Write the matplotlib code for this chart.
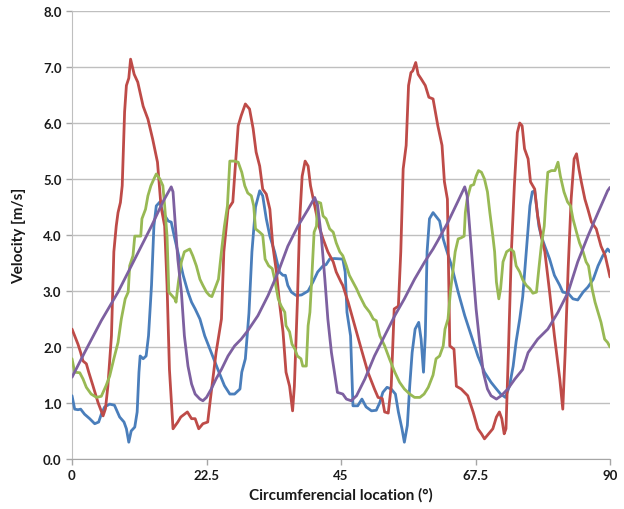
import matplotlib
matplotlib.use('Agg')
import matplotlib.pyplot as plt

plt.rcParams['font.family'] = ['Lato', 'DejaVu Sans']

# velocity traces, x in degrees, y in m/s
red_x = [0, 0.45, 1.0, 1.45, 1.84, 2.4, 2.8, 3.5, 4.35, 5.2,
         5.6, 6.0, 6.6, 7.0, 7.4, 7.7, 8.1, 8.4, 8.8, 9.1,
         9.5, 9.8, 10.4, 11.0, 11.9, 12.7, 13.5, 14.3, 14.9, 15.5,
         15.9, 16.3, 16.9, 17.7, 18.2, 19.3, 20.0, 20.6, 21.2, 21.9,
         22.7, 23.3, 24.1, 25.0, 25.4, 26.1, 26.9, 27.8, 28.3, 29.0,
         29.7, 30.3, 30.8, 31.4, 31.9, 32.5, 33.1, 33.6, 34.2, 34.7,
         35.3, 35.8, 36.4, 36.9, 37.2, 37.7, 38.1, 38.5, 39.0, 39.5,
         39.9, 40.6, 41.3, 42.0, 42.8, 43.7, 44.2, 45.0, 45.3, 46.2,
         47.3, 48.4, 49.5, 50.6, 51.2, 51.9, 52.3, 52.9, 53.4, 53.9,
         54.6, 55.0, 55.4, 55.9, 56.3, 56.7, 57.0, 57.5, 57.9, 58.4,
         59.1, 59.7, 60.4, 61.2, 61.9, 62.3, 62.8, 63.2, 63.9, 64.3,
         65.1, 66.2, 67.1, 67.9, 68.5, 69.0, 69.7, 70.4, 71.0, 71.5,
         71.9, 72.3, 72.6, 73.0, 73.5, 74.0, 74.5, 74.9, 75.3, 75.7,
         76.3, 76.7, 77.4, 77.9, 78.5, 79.1, 79.9, 80.7, 81.6, 82.1,
         82.5, 83.0, 83.5, 84.0, 84.4, 84.8, 85.2, 85.8, 86.3, 86.9,
         87.7, 88.5, 89.2, 90.0]
red_y = [2.32, 2.2, 2.05, 1.9, 1.75, 1.7, 1.55, 1.31, 1.01, 0.77,
         0.9, 1.3, 2.2, 3.7, 4.16, 4.4, 4.58, 4.88, 6.2, 6.67,
         6.8, 7.14, 6.87, 6.73, 6.3, 6.07, 5.71, 5.3, 4.5, 4.16,
         3.1, 1.6, 0.54, 0.66, 0.75, 0.84, 0.72, 0.72, 0.54, 0.63,
         0.66, 1.2, 1.9, 2.5, 3.7, 4.46, 4.59, 5.95, 6.13, 6.34,
         6.25, 5.9, 5.48, 5.23, 4.82, 4.73, 4.46, 3.8, 3.34, 2.8,
         2.27, 1.55, 1.3, 0.86, 1.3, 2.8, 4.29, 5.05, 5.32, 5.23,
         4.88, 4.52, 4.16, 3.93, 3.7, 3.52, 3.34, 3.16, 3.1, 2.8,
         2.38, 1.96, 1.55, 1.25, 1.1, 1.08, 0.84, 0.82, 1.3, 2.68,
         2.73, 3.7, 5.18, 5.6, 6.67, 6.9, 6.93, 7.08, 6.87, 6.79,
         6.67, 6.46, 6.43, 5.95, 5.6, 4.95, 4.64, 2.02, 1.96, 1.3,
         1.25, 1.13, 0.84, 0.54, 0.45, 0.36, 0.45, 0.54, 0.75, 0.84,
         0.72, 0.45, 0.54, 1.9, 3.7, 4.88, 5.83, 6.0, 5.95, 5.54,
         5.36, 4.95, 4.82, 4.34, 3.98, 3.7, 2.98, 2.2, 1.43, 0.89,
         1.9, 3.4, 4.64, 5.36, 5.45, 5.18, 4.95, 4.64, 4.46, 4.23,
         4.11, 3.8, 3.63, 3.25]

blue_x = [0, 0.45, 1.0, 1.45, 2.1, 2.96, 3.8, 4.46, 4.9, 5.46,
          6.3, 7.1, 7.97, 8.7, 9.1, 9.5, 9.9, 10.5, 10.9, 11.2,
          11.4, 11.9, 12.4, 12.8, 13.3, 13.7, 14.1, 14.7, 15.2, 16.1,
          16.6, 17.1, 17.7, 18.6, 19.4, 20.0, 20.6, 21.4, 22.2, 23.3,
          24.4, 25.5, 26.4, 27.2, 28.1, 28.4, 29.0, 29.6, 30.1, 30.7,
          31.4, 31.9, 32.5, 33.1, 33.9, 34.7, 35.3, 35.7, 36.1, 36.7,
          37.5, 38.4, 39.5, 40.3, 41.1, 42.0, 42.5, 43.1, 43.9, 45.3,
          45.7, 46.0, 46.6, 47.0, 47.8, 48.5, 49.2, 50.1, 50.9, 51.5,
          52.0, 52.7, 53.4, 54.1, 54.6, 55.2, 55.6, 56.1, 56.5, 56.9,
          57.4, 58.0, 58.4, 58.8, 59.1, 59.4, 59.8, 60.4, 61.5, 62.1,
          62.6, 63.5, 64.6, 65.7, 66.8, 67.9, 69.0, 70.1, 71.0, 71.7,
          72.5, 73.2, 73.8, 74.3, 74.9, 75.4, 76.0, 76.6, 77.0, 77.4,
          77.7, 78.1, 78.5, 79.1, 79.9, 80.7, 81.6, 82.1, 83.0, 83.8,
          84.6, 85.5, 86.3, 87.2, 88.0, 88.8, 89.6, 90.0]
blue_y = [1.13, 0.89, 0.88, 0.89, 0.8, 0.72, 0.63, 0.66, 0.8, 0.93,
          0.98, 0.96, 0.75, 0.66, 0.54, 0.3, 0.5, 0.57, 0.84, 1.55,
          1.84, 1.79, 1.84, 2.2, 3.1, 4.16, 4.52, 4.59, 4.4, 4.25,
          4.23, 3.98, 3.7, 3.28, 2.98, 2.8, 2.68, 2.5, 2.2, 1.9,
          1.6, 1.31, 1.16, 1.16, 1.25, 1.55, 1.79, 2.6, 3.7, 4.5,
          4.79, 4.7, 4.29, 3.98, 3.7, 3.34, 3.28, 3.28, 3.1, 2.98,
          2.92, 2.93, 3.0, 3.16, 3.34, 3.45, 3.47, 3.57, 3.58, 3.57,
          3.34, 2.62, 2.2, 0.95, 0.95, 1.07, 0.93, 0.86, 0.87, 1.01,
          1.19, 1.28, 1.25, 1.16, 0.84, 0.54, 0.3, 0.6, 1.31, 1.9,
          2.32, 2.44, 2.14, 1.55, 2.2, 3.7, 4.29, 4.4, 4.25, 3.93,
          3.75, 3.45, 2.98, 2.56, 2.2, 1.84, 1.55, 1.37, 1.25, 1.16,
          1.1, 1.31, 1.66, 2.1, 2.5, 2.9, 3.7, 4.52, 4.77, 4.79,
          4.52, 4.16, 3.98, 3.8, 3.57, 3.28, 3.1, 2.98, 2.96, 2.86,
          2.84, 2.98, 3.07, 3.21, 3.45, 3.63, 3.75, 3.7]

green_x = [0, 0.45, 1.3, 1.84, 2.4, 3.2, 4.1, 4.9, 5.7, 6.3,
           7.0, 7.7, 8.25, 8.9, 9.4, 9.65, 10.2, 10.5, 11.0, 11.5,
           11.7, 12.3, 12.7, 13.2, 13.7, 14.1, 14.7, 15.2, 15.5, 15.9,
           16.2, 16.7, 17.2, 17.4, 17.8, 18.3, 18.8, 19.7, 20.2, 20.8,
           21.4, 21.9, 22.5, 23.0, 23.4, 23.9, 24.5, 25.1, 25.5, 26.0,
           26.4, 27.2, 27.8, 28.4, 28.9, 29.4, 30.0, 30.4, 30.7, 31.4,
           31.9, 32.3, 32.9, 33.5, 33.9, 34.5, 35.0, 35.6, 35.8, 36.4,
           36.8, 37.3, 37.7, 38.3, 38.6, 39.2, 39.5, 39.8, 40.1, 40.5,
           40.9, 41.1, 41.6, 42.0, 42.5, 43.1, 43.7, 44.2, 44.8, 45.3,
           45.9, 46.4, 47.0, 47.6, 48.1, 49.0, 49.8, 50.4, 50.9, 51.5,
           52.3, 53.1, 54.0, 54.8, 55.6, 56.5, 57.3, 58.2, 58.9, 59.6,
           60.4, 60.9, 61.5, 62.1, 62.4, 62.9, 63.3, 63.7, 64.1, 64.6,
           65.1, 65.6, 65.8, 66.1, 66.7, 67.2, 67.6, 68.0, 68.5, 69.0,
           69.5, 69.9, 70.4, 70.7, 71.0, 71.4, 71.7, 72.1, 72.7, 73.4,
           73.9, 74.3, 74.9, 75.4, 76.0, 76.6, 77.1, 77.7, 78.1, 78.5,
           79.0, 79.3, 79.6, 80.2, 80.8, 81.3, 81.7, 82.3, 82.9, 83.4,
           83.8, 84.4, 84.9, 85.5, 86.0, 86.4, 87.0, 87.5, 88.0, 88.5,
           89.1, 89.6, 90.0]
green_y = [1.79, 1.55, 1.54, 1.43, 1.28, 1.16, 1.1, 1.12, 1.31, 1.48,
           1.79, 2.08, 2.5, 2.86, 2.98, 3.45, 3.63, 3.98, 3.98, 3.98,
           4.29, 4.46, 4.7, 4.88, 5.0, 5.09, 5.0, 4.88, 4.52, 3.98,
           2.98, 2.92, 2.86, 2.8, 3.16, 3.52, 3.7, 3.75, 3.63, 3.45,
           3.21, 3.1, 2.98, 2.92, 2.9, 3.04, 3.21, 3.8, 4.16, 4.52,
           5.32, 5.32, 5.3, 5.12, 4.88, 4.75, 4.7, 4.52, 4.11, 4.05,
           4.0, 3.57, 3.45, 3.4, 3.21, 2.86, 2.73, 2.62, 2.38, 2.27,
           2.05, 1.96, 1.84, 1.79, 1.66, 1.66, 2.38, 2.62, 3.21, 4.05,
           4.16, 4.59, 4.57, 4.34, 4.29, 4.11, 4.05, 3.86, 3.7, 3.63,
           3.45, 3.28, 3.16, 3.04, 2.92, 2.73, 2.62, 2.5, 2.47, 2.2,
           2.02, 1.79, 1.55, 1.37, 1.25, 1.16, 1.1, 1.1, 1.16, 1.28,
           1.5, 1.79, 1.84, 2.02, 2.32, 2.5, 2.98, 3.34, 3.7, 3.93,
           3.95, 3.98, 4.4, 4.64, 4.88, 4.9, 5.05, 5.15, 5.12, 5.0,
           4.77, 4.4, 3.98, 3.7, 3.16, 2.86, 3.04, 3.52, 3.7, 3.75,
           3.7, 3.45, 3.34, 3.2, 3.1, 3.04, 2.96, 2.98, 3.4, 3.8,
           4.16, 4.7, 5.12, 5.15, 5.15, 5.3, 5.05, 4.77, 4.59, 4.52,
           4.29, 4.05, 3.86, 3.7, 3.52, 3.45, 3.04, 2.8, 2.62, 2.44,
           2.14, 2.08, 2.0]

purple_x = [0, 2.1, 4.9, 7.7, 10.5, 13.3, 15.2, 16.6, 16.9, 17.3,
            17.7, 18.3, 18.8, 19.4, 20.0, 20.6, 21.4, 21.9, 22.5, 23.3,
            24.1, 25.0, 26.1, 27.2, 28.3, 29.4, 31.1, 32.8, 34.5, 36.1,
            37.8, 39.5, 40.6, 41.1, 41.7, 42.3, 42.8, 43.4, 43.9, 44.4,
            45.3, 45.9, 46.7, 47.6, 49.0, 50.6, 52.3, 54.0, 55.6, 57.3,
            59.0, 60.4, 61.2, 62.9, 64.6, 65.7, 66.1, 66.5, 67.1, 67.6,
            68.2, 68.8, 69.5, 70.1, 71.0, 71.8, 72.9, 74.1, 75.4, 76.3,
            77.9, 79.6, 81.3, 83.0, 84.6, 86.3, 88.0, 89.6, 90.0]
purple_y = [1.46, 1.9, 2.47, 2.98, 3.57, 4.16, 4.59, 4.86, 4.77, 4.16,
            3.57, 2.98, 2.2, 1.66, 1.34, 1.16, 1.07, 1.04, 1.1, 1.25,
            1.43, 1.6, 1.84, 2.02, 2.14, 2.29, 2.56, 2.92, 3.34, 3.8,
            4.16, 4.46, 4.67, 4.52, 3.98, 3.21, 2.5, 1.9, 1.55, 1.19,
            1.16, 1.07, 1.04, 1.13, 1.43, 1.84, 2.2, 2.56, 2.86, 3.21,
            3.52, 3.75, 3.9, 4.23, 4.61, 4.86, 4.7, 4.16, 3.34, 2.68,
            2.08, 1.55, 1.25, 1.13, 1.07, 1.13, 1.25, 1.43, 1.6, 1.9,
            2.14, 2.32, 2.62, 2.98, 3.52, 3.98, 4.4, 4.79, 4.85]

x_ticks = [0, 22.5, 45, 67.5, 90]
x_tick_labels = ['0', '22.5', '45', '67.5', '90']
y_ticks = [0, 1, 2, 3, 4, 5, 6, 7, 8]

fig = plt.figure(figsize=(6.24, 5.1), dpi=100)
ax = fig.add_axes([72 / 624, 50 / 510, 538 / 624, 448 / 510])

line_kw = dict(lw=2.0, zorder=3, solid_joinstyle='round', solid_capstyle='round')
ax.plot(blue_x, blue_y, color='#4A7EBB', **line_kw)
ax.plot(red_x, red_y, color='#BE4B48', **line_kw)
ax.plot(green_x, green_y, color='#98B954', **line_kw)
ax.plot(purple_x, purple_y, color='#7D60A0', **line_kw)

ax.set_xlim(0, 90)
ax.set_ylim(0, 8)
ax.set_xticks(x_ticks)
ax.set_xticklabels(x_tick_labels)
ax.set_yticks(y_ticks)
ax.set_yticklabels(['%.1f' % v for v in y_ticks])

ax.yaxis.grid(True, color='#BFBFBF', lw=1)
ax.set_axisbelow(True)
for side in ['top', 'right']:
    ax.spines[side].set_visible(False)
ax.spines['left'].set_color('#BFBFBF')
ax.spines['bottom'].set_color('#A6A6A6')
ax.tick_params(axis='both', colors='#A6A6A6', length=4, width=1,
               labelcolor='#1A1A1A', labelsize=9.5)
for lab in ax.get_xticklabels() + ax.get_yticklabels():
    lab.set_fontweight('bold')

ax.set_xlabel('Circumferencial location (°)', fontsize=11,
              fontweight='bold', color='#1A1A1A', labelpad=4)
ax.set_ylabel('Velocity [m/s]', fontsize=11, fontweight='bold',
              color='#1A1A1A', labelpad=12)

fig.savefig('out.png', dpi=100, facecolor='white')
